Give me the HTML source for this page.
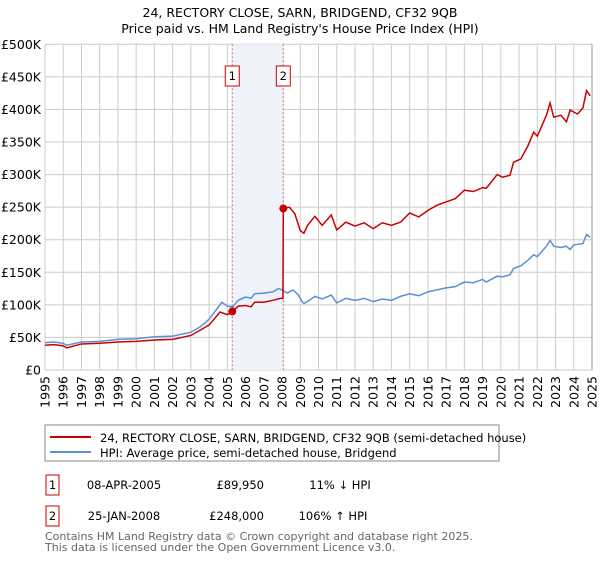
<!DOCTYPE html>
<html><head><meta charset="utf-8"><style>
body{margin:0;background:#fff;font-family:"Liberation Sans","DejaVu Sans",sans-serif;}
svg text{font-family:"DejaVu Sans","Liberation Sans",sans-serif;}
</style></head><body>
<svg id="c" width="600" height="560" xmlns="http://www.w3.org/2000/svg">
<text x="300" y="17" text-anchor="middle" font-size="12.5" fill="#000">24, RECTORY CLOSE, SARN, BRIDGEND, CF32 9QB</text>
<text x="300" y="33" text-anchor="middle" font-size="12.5" fill="#000">Price paid vs. HM Land Registry's House Price Index (HPI)</text>
<g id="grid"></g>
<g id="marks"></g>
<g id="axes"></g>
<rect x="45" y="425" width="454" height="36" fill="#fff" stroke="#888"/>
<line x1="50" y1="437" x2="91" y2="437" stroke="#cc0000" stroke-width="2"/>
<text x="100" y="442" font-size="11.5">24, RECTORY CLOSE, SARN, BRIDGEND, CF32 9QB (semi-detached house)</text>
<line x1="50" y1="452" x2="91" y2="452" stroke="#5b8fd6" stroke-width="2"/>
<text x="100" y="457" font-size="11.5">HPI: Average price, semi-detached house, Bridgend</text>
<g>
<rect x="46" y="475" width="13" height="20" fill="#fff" stroke="#cc0000"/><text x="52.5" y="489" text-anchor="middle" font-size="11.5">1</text>
<text x="124" y="489" text-anchor="middle" font-size="11.5">08-APR-2005</text>
<text x="264" y="489" text-anchor="end" font-size="11.5">£89,950</text>
<text x="340" y="489" text-anchor="middle" font-size="11.5">11% ↓ HPI</text></g>
<g>
<rect x="46" y="506" width="13" height="20" fill="#fff" stroke="#cc0000"/><text x="52.5" y="520" text-anchor="middle" font-size="11.5">2</text>
<text x="124" y="520" text-anchor="middle" font-size="11.5">25-JAN-2008</text>
<text x="264" y="520" text-anchor="end" font-size="11.5">£248,000</text>
<text x="333" y="520" text-anchor="middle" font-size="11.5">106% ↑ HPI</text></g>
<text x="45" y="540" font-size="11" fill="#666">Contains HM Land Registry data © Crown copyright and database right 2025.</text>
<text x="45" y="551" font-size="11" fill="#666">This data is licensed under the Open Government Licence v3.0.</text>
</svg>
<script>
const yTicks=[0,50,100,150,200,250,300,350,400,450,500];
const yTickLabels=["£0","£50K","£100K","£150K","£200K","£250K","£300K","£350K","£400K","£450K","£500K"];
const xYears=[1995,1996,1997,1998,1999,2000,2001,2002,2003,2004,2005,2006,2007,2008,2009,2010,2011,2012,2013,2014,2015,2016,2017,2018,2019,2020,2021,2022,2023,2024,2025];
const hpiT=[1995,1995.5,1996,1996.2,1997,1998,1999,2000,2001,2002,2003,2003.5,2004,2004.7,2005,2005.3,2005.6,2006,2006.3,2006.5,2007,2007.5,2007.8,2008,2008.3,2008.6,2008.9,2009.1,2009.2,2009.5,2009.8,2010.2,2010.7,2011,2011.5,2012,2012.5,2013,2013.5,2014,2014.5,2015,2015.5,2016,2016.5,2017,2017.5,2018,2018.5,2019,2019.2,2019.8,2020.1,2020.5,2020.7,2021.1,2021.5,2021.8,2022,2022.5,2022.7,2022.9,2023.3,2023.6,2023.8,2024,2024.5,2024.7,2024.9];
const hpiV=[42,43,41,38,43,44,47,48,51,52,58,66,78,104,98,97,107,112,110,117,118,120,125,123,118,123,115,105,102,107,113,109,115,103,110,107,110,105,109,107,113,117,114,120,123,126,128,135,134,139,135,144,143,146,156,160,169,177,174,190,199,190,188,190,185,192,194,208,204];
const priceT=[1995,1995.5,1996,1996.2,1997,1998,1999,2000,2001,2002,2003,2003.5,2004,2004.6,2005,2005.27,2005.6,2006,2006.3,2006.5,2007,2007.5,2007.9,2008.05,2008.07,2008.4,2008.7,2009,2009.2,2009.4,2009.8,2010.2,2010.7,2011,2011.5,2012,2012.5,2013,2013.5,2014,2014.5,2015,2015.5,2016,2016.5,2017,2017.5,2018,2018.5,2019,2019.2,2019.8,2020.1,2020.5,2020.7,2021.1,2021.5,2021.8,2022,2022.5,2022.7,2022.9,2023.3,2023.6,2023.8,2024.2,2024.5,2024.7,2024.9];
const priceV=[38,39,37,34,40,41,43,44,46,47,53,61,69,89,85,89.95,98,99,97,104,104,107,110,110,248,250,240,214,210,222,236,222,238,215,227,221,226,217,226,222,227,241,235,245,253,258,263,276,274,280,279,300,296,299,319,324,345,365,359,391,410,388,391,381,399,393,402,429,421];
const saleT=[2005.27,2008.07];
const saleV=[89.95,248];
const saleLabels=["1","2"];

const L=45,R=592,T=44.3,B=370;
const X=t=>L+(t-1995)/30*(R-L);
const Y=v=>B-v/500*(B-T);
const NS="http://www.w3.org/2000/svg";
function mk(tag,attrs,parent){const e=document.createElementNS(NS,tag);for(const k in attrs)e.setAttribute(k,attrs[k]);parent.appendChild(e);return e;}
const grid=document.getElementById('grid'),marks=document.getElementById('marks'),axes=document.getElementById('axes');
yTicks.forEach((v,i)=>{
 const l=mk('line',{x1:L,x2:R,y1:Y(v),y2:Y(v),stroke:'#cccccc','stroke-width':1},grid);
 
 
 const t=mk('text',{x:L-4,y:Y(v)+4.5,'text-anchor':'end','font-size':12.5,fill:'#000'},axes);
 t.textContent=yTickLabels[i];
 
 
});
xYears.forEach(yr=>{
 const l=mk('line',{x1:X(yr),x2:X(yr),y1:T,y2:B,stroke:'#cccccc','stroke-width':1},grid);
 
 
 const t=mk('text',{x:0,y:0,'text-anchor':'end','font-size':12.5,transform:`translate(${X(yr)+4.5},${B+6}) rotate(-90)`},axes);
 t.textContent=yr;
 
 
});
const shade=mk('rect',{x:X(saleT[0]),y:T,width:X(saleT[1])-X(saleT[0]),height:B-T,fill:'#eef2fb'},grid);


const edge=mk('line',{x1:R,x2:R,y1:T,y2:B,stroke:'#999','stroke-width':1},grid);


saleT.forEach((t,i)=>{
 const l=mk('line',{x1:X(t),x2:X(t),y1:T,y2:B,stroke:'#e06060','stroke-width':1,'stroke-dasharray':'2,2'},marks);
 
 
 const r=mk('rect',{x:X(t)-7,y:66,width:14,height:20,fill:'#fff',stroke:'#cc0000'},marks);
 
 
 const tx=mk('text',{x:X(t),y:80,'text-anchor':'middle','font-size':11.5},marks);
 tx.textContent=saleLabels[i];
 
 
});
const hp=mk('polyline',{points:hpiT.map((t,i)=>X(t)+','+Y(hpiV[i])).join(' '),fill:'none',stroke:'#5b8fd6','stroke-width':1.5},marks);


const pp=mk('polyline',{points:priceT.map((t,i)=>X(t)+','+Y(priceV[i])).join(' '),fill:'none',stroke:'#cc0000','stroke-width':1.5},marks);


saleT.forEach((t,i)=>{
 const c=mk('circle',{cx:X(t),cy:Y(saleV[i]),r:4,fill:'#cc0000'},marks);
 
 
});
</script>
</body></html>
